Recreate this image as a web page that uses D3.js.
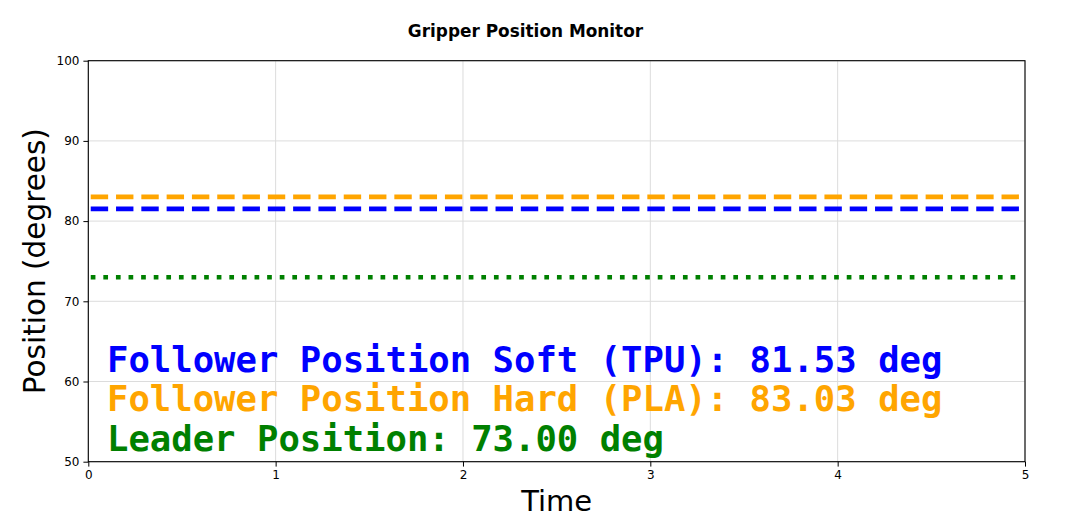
<!DOCTYPE html>
<html>
<head>
<meta charset="utf-8">
<script src="https://cdn.jsdelivr.net/npm/d3@7"></script>
<style>
  body { margin: 0; background: #fff; }
</style>
</head>
<body>
<script>
  var w = 1069
  var h = 529
  var margin = { top: 60.7, right: 44, bottom: 67.3, left: 88.3 }

  // data
  var times = [0.013, 4.97]
  var softTPU = [81.53, 81.53]   // follower soft (TPU)
  var hardPLA = [83.03, 83.03]   // follower hard (PLA)
  var leader = [73.00, 73.00]

  var xTicks = [0, 1, 2, 3, 4, 5]
  var yTicks = [50, 60, 70, 80, 90, 100]

  var labels = [
    "Follower Position Soft (TPU): 81.53 deg",
    "Follower Position Hard (PLA): 83.03 deg",
    "Leader Position: 73.00 deg"
  ]

  var series = [
    { name: "hard", values: hardPLA, color: "#ffa500", dash: "17.4,7.9" },
    { name: "soft", values: softTPU, color: "#0000ff", dash: "17.4,7.9" },
    { name: "leader", values: leader, color: "#008000", dash: "4.7,7.9" }
  ]
  var labelColors = ["#0000ff", "#ffa500", "#008000"]

  var iw = w - margin.left - margin.right
  var ih = h - margin.top - margin.bottom
  var sans = "'DejaVu Sans', sans-serif"
  var mono = "'DejaVu Sans Mono', monospace"

  //SCALES
  var x = d3.scaleLinear().domain([0, 5]).range([0, iw])
  var y = d3.scaleLinear().domain([50, 100]).range([ih, 0])

  var svg = d3.select("body")
    .append("svg")
    .attr("width", w)
    .attr("height", h)

  var g = svg.append("g")
    .attr("transform", "translate(" + margin.left + "," + margin.top + ")")

  //GRID
  g.append("g").selectAll("line")
    .data(xTicks)
    .enter().append("line")
    .attr("x1", function (d) { return x(d) })
    .attr("x2", function (d) { return x(d) })
    .attr("y1", 0).attr("y2", ih)
    .attr("stroke", "#dcdcdc").attr("stroke-width", 1)

  g.append("g").selectAll("line")
    .data(yTicks)
    .enter().append("line")
    .attr("y1", function (d) { return y(d) })
    .attr("y2", function (d) { return y(d) })
    .attr("x1", 0).attr("x2", iw)
    .attr("stroke", "#dcdcdc").attr("stroke-width", 1)

  //LINES
  var line = d3.line()
    .x(function (d) { return x(d[0]) })
    .y(function (d) { return y(d[1]) })

  g.selectAll("path.series")
    .data(series)
    .enter().append("path")
    .attr("class", "series")
    .attr("d", function (s) {
      return line(times.map(function (t, i) { return [t, s.values[i]] }))
    })
    .attr("fill", "none")
    .attr("stroke", function (s) { return s.color })
    .attr("stroke-width", 4.7)
    .attr("stroke-dasharray", function (s) { return s.dash })

  //AXES
  var xAxis = d3.axisBottom(x).tickValues(xTicks).tickSize(4.9).tickPadding(4).tickFormat(d3.format("d"))
  var yAxis = d3.axisLeft(y).tickValues(yTicks).tickSize(4.9).tickPadding(4).tickFormat(d3.format("d"))

  var gx = g.append("g").attr("transform", "translate(0," + ih + ")").call(xAxis)
  var gy = g.append("g").call(yAxis)
  ;[gx, gy].forEach(function (a) {
    a.select(".domain").remove()
    a.selectAll("text")
      .style("font-family", sans)
      .style("font-size", "12px")
      .attr("fill", "#000")
    a.selectAll("line").attr("stroke", "#000").attr("stroke-width", 1)
  })

  // frame
  g.append("rect")
    .attr("x", 0).attr("y", 0)
    .attr("width", iw).attr("height", ih)
    .attr("fill", "none")
    .attr("stroke", "#000")
    .attr("stroke-width", 1.1)

  //ANNOTATION
  g.selectAll("text.note")
    .data(labels)
    .enter().append("text")
    .attr("class", "note")
    .attr("x", iw * 0.02)
    .attr("y", function (d, i) { return 311 + i * 39.5 })
    .style("font-family", mono)
    .style("font-weight", "bold")
    .style("font-size", "35.6px")
    .attr("fill", function (d, i) { return labelColors[i] })
    .text(function (d) { return d })

  //TITLES
  svg.append("text")
    .attr("x", 525.5).attr("y", 37)
    .attr("text-anchor", "middle")
    .style("font-family", sans)
    .style("font-weight", "bold")
    .style("font-size", "16.9px")
    .text("Gripper Position Monitor")

  svg.append("text")
    .attr("x", margin.left + iw / 2).attr("y", 510.5)
    .attr("text-anchor", "middle")
    .style("font-family", sans)
    .style("font-size", "29px")
    .text("Time")

  svg.append("text")
    .attr("transform", "translate(45," + (margin.top + ih / 2) + ") rotate(-90)")
    .attr("text-anchor", "middle")
    .style("font-family", sans)
    .style("font-size", "29.5px")
    .text("Position (degrees)")
</script>
</body>
</html>
